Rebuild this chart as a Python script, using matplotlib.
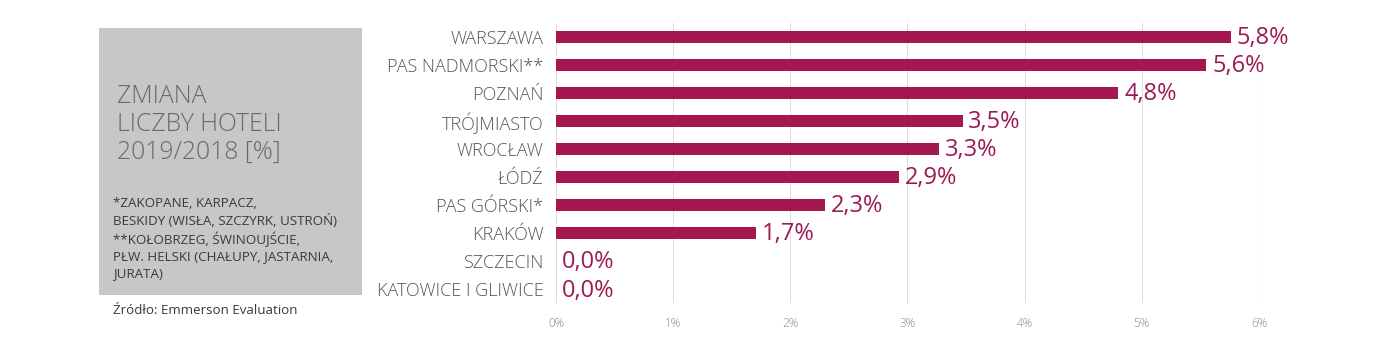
import matplotlib.pyplot as plt
from matplotlib.patches import Rectangle

miasta = ["WARSZAWA", "PAS NADMORSKI**", "POZNAŃ", "TRÓJMIASTO", "WROCŁAW",
          "ŁÓDŹ", "PAS GÓRSKI*", "KRAKÓW", "SZCZECIN", "KATOWICE I GLIWICE"]
zmiana = [5.76, 5.55, 4.80, 3.47, 3.27, 2.93, 2.30, 1.71, 0.0, 0.0]
etykiety = ["5,8%", "5,6%", "4,8%", "3,5%", "3,3%", "2,9%", "2,3%", "1,7%", "0,0%", "0,0%"]
osX = [0, 1, 2, 3, 4, 5, 6]
osX_etykiety = ["0%", "1%", "2%", "3%", "4%", "5%", "6%"]

plt.rcParams['font.family'] = ['Open Sans', 'DejaVu Sans']

kolor_bar = "#A5174F"
kolor_tekst = "#9B1B55"

fig = plt.figure(figsize=(13.85, 3.48), dpi=100)

# szare pole z tytulem
fig.patches.append(Rectangle((0.0715, 0.152), 0.19, 0.767, transform=fig.transFigure,
                             facecolor="#C8C7C6", edgecolor="none", zorder=0))
fig.text(0.0845, 0.758, "ZMIANA\nLICZBY HOTELI\n2019/2018 [%]", fontsize=17.8, color="#6A6A6A",
         fontweight="light", va="top", ha="left", linespacing=1.14)
fig.text(0.0815, 0.434, "*ZAKOPANE, KARPACZ,\nBESKIDY (WISŁA, SZCZYRK, USTROŃ)\n"
         "**KOŁOBRZEG, ŚWINOUJŚCIE,\nPŁW. HELSKI (CHAŁUPY, JASTARNIA,\nJURATA)",
         fontsize=9.6, color="#3A3A3A", va="top", ha="left", linespacing=1.33)
fig.text(0.0815, 0.108, "Źródło: Emmerson Evaluation", fontsize=9.6, color="#3A3A3A",
         va="center", ha="left")

ax = fig.add_axes([0.4014, 0.129, 0.5076, 0.805])
y = list(range(len(miasta)))
ax.barh(y, zmiana, height=0.4, color=kolor_bar, zorder=3)
for i in y:
    ax.text(zmiana[i] + 0.05, i + 0.05, etykiety[i], color=kolor_tekst, fontsize=17,
            va="center", ha="left", zorder=4)

ax.set_xlim(0, 6)
ax.set_ylim(len(miasta) - 0.5, -0.5)
ax.set_yticks(y)
ax.set_yticklabels(miasta, fontsize=13, color="#555555", fontweight="light")
ax.set_xticks(osX)
ax.set_xticklabels(osX_etykiety, fontsize=8.5, color="#888888", fontweight="light")
ax.tick_params(axis="y", length=0, pad=9)
ax.tick_params(axis="x", length=0, pad=10)
ax.grid(axis="x", color="#DDDDDD", linewidth=0.8, zorder=0)
for s in ax.spines.values():
    s.set_visible(False)

fig.savefig("out.png", dpi=100)
